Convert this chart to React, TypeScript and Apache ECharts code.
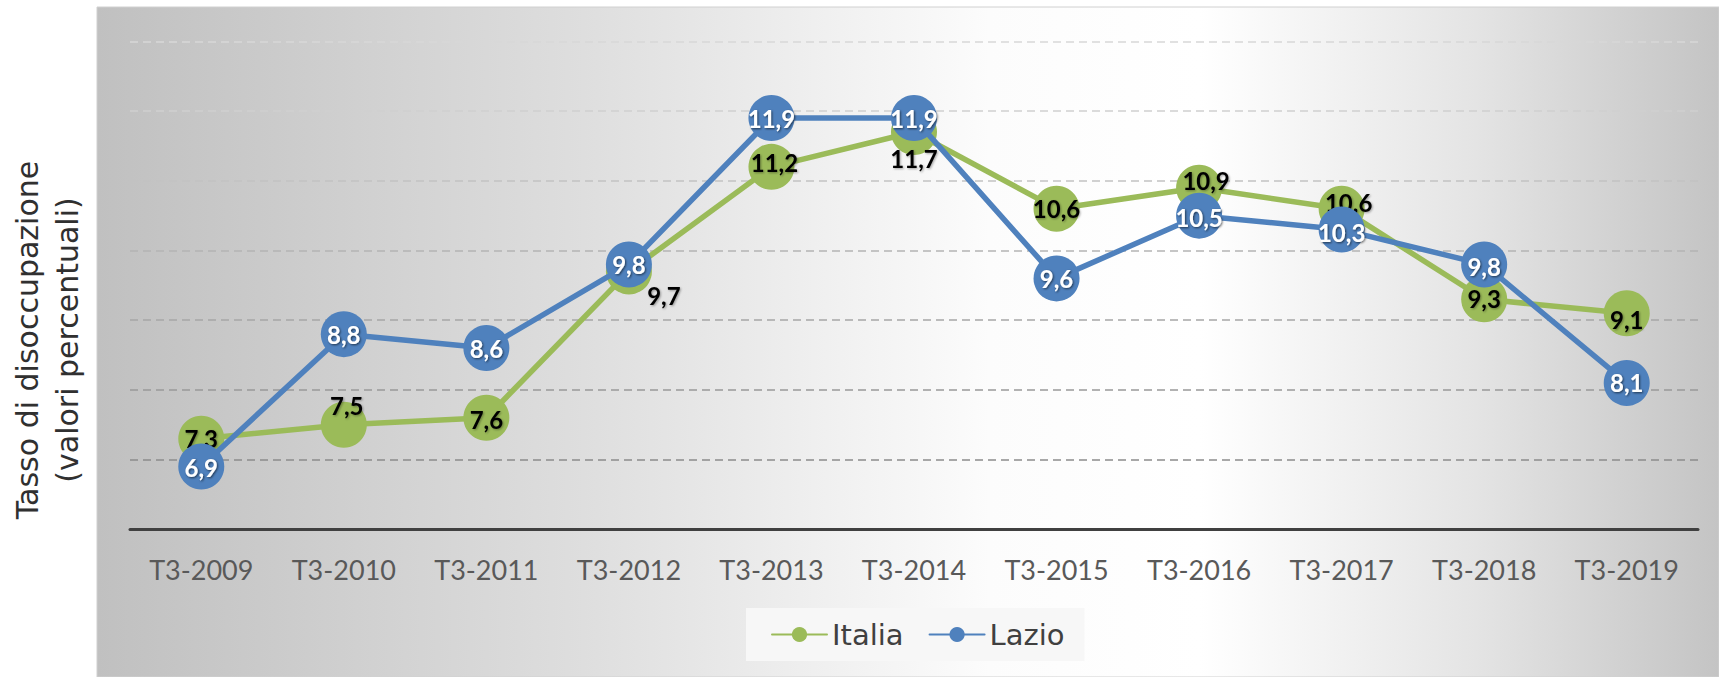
import React, { useEffect, useRef } from "react";
import * as echarts from "echarts";

const categories = ["T3-2009", "T3-2010", "T3-2011", "T3-2012", "T3-2013", "T3-2014", "T3-2015", "T3-2016", "T3-2017", "T3-2018", "T3-2019"];
const italia = [7.3, 7.5, 7.6, 9.7, 11.2, 11.7, 10.6, 10.9, 10.6, 9.3, 9.1];
const lazio = [6.9, 8.8, 8.6, 9.8, 11.9, 11.9, 9.6, 10.5, 10.3, 9.8, 8.1];
const yMin = 6;
const yMax = 13;
const yInterval = 1;
const axisTitle = "Tasso di disoccupazione\n(valori percentuali)";

// label offsets (layout only)
const italiaLabelOffsets = [[0, 0], [3, -19], [0, 2], [35, 24], [3, -4], [0, 26], [0, 0], [7, -7], [7, -6], [0, -1], [0, 6]];
const lazioLabelOffsets = [[0, 1], [0, 0], [0, 0], [0, 0], [0, 0], [0, 0], [0, 0], [0, 2], [0, 3], [0, 2], [0, 0]];

const GREEN = "#9BBB59";
const BLUE = "#4F81BD";

export default function App() {
  const ref = useRef<HTMLDivElement>(null);
  useEffect(() => {
    if (!ref.current) return;
    const chart = echarts.init(ref.current, null, { renderer: "svg" });
    const labelBase = {
      show: true,
      position: "inside",
      fontFamily: "Lato",
      fontWeight: "bold",
      fontSize: 24,
      lineHeight: 18,
    };
    chart.setOption({
      animation: false,
      backgroundColor: "#ffffff",
      graphic: [
        {
          type: "rect",
          z: -100,
          shape: { x: 97, y: 7, width: 1622, height: 670 },
          style: {
            fill: {
              type: "linear",
              x: 0, y: 0, x2: 1, y2: 0,
              colorStops: [
                { offset: 0, color: "#c0c0c0" },
                { offset: 0.3, color: "#dedede" },
                { offset: 0.55, color: "#fcfcfc" },
                { offset: 0.68, color: "#ffffff" },
                { offset: 0.85, color: "#e4e4e4" },
                { offset: 1, color: "#c4c4c4" },
              ],
            },
            stroke: "#d0d0d0",
            lineWidth: 1,
          },
        },
        {
          type: "text",
          z: 10,
          x: 47,
          y: 340,
          rotation: Math.PI / 2,
          style: {
            text: axisTitle,
            fontFamily: "DejaVu Sans",
            fontSize: 30,
            lineHeight: 40,
            fill: "#303030",
            align: "center",
            verticalAlign: "middle",
          },
        },
      ],
      grid: { left: 130, right: 21, top: 41.4, bottom: 147.7, containLabel: false },
      legend: {
        left: 746,
        top: 608,
        backgroundColor: "#f7f7f7",
        padding: [12, 20, 12, 25],
        itemWidth: 55,
        itemHeight: 19,
        itemGap: 25,
        textStyle: { fontFamily: "DejaVu Sans", fontSize: 29, color: "#404040" },
        data: ["Italia", "Lazio"],
      },
      xAxis: {
        type: "category",
        data: categories,
        boundaryGap: true,
        axisLine: { show: true, lineStyle: { color: "#404040", width: 3 } },
        axisTick: { show: false },
        axisLabel: {
          color: "#595959",
          fontFamily: "Lato",
          fontSize: 27,
          lineHeight: 28,
          margin: 26,
        },
        splitLine: { show: false },
      },
      yAxis: {
        type: "value",
        min: yMin,
        max: yMax,
        interval: yInterval,
        axisLine: { show: false },
        axisTick: { show: false },
        axisLabel: { show: false },
        splitLine: {
          show: true,
          lineStyle: {
            type: [8, 5],
            width: 1.5,
            color: ["#808080", "#8c8c8c", "#999999", "#a6a6a6", "#b4b4b4", "#c2c2c2", "#cfcfcf", "#d8d8d8"],
          },
        },
      },
      series: [
        {
          name: "Italia",
          type: "line",
          data: italia.map((v, i) => ({ value: v, label: { offset: italiaLabelOffsets[i] } })),
          symbol: "circle",
          symbolSize: 46,
          lineStyle: { color: GREEN, width: 5.5, cap: "round" },
          itemStyle: { color: GREEN },
          z: 3,
          label: {
            ...labelBase,
            color: "#000000",
            textShadowColor: "rgba(0,0,0,0.35)",
            textShadowBlur: 2,
            textShadowOffsetX: 1,
            textShadowOffsetY: 1,
            formatter: (p: any) => String(p.value).replace(".", ","),
          },
        },
        {
          name: "Lazio",
          type: "line",
          data: lazio.map((v, i) => ({ value: v, label: { offset: lazioLabelOffsets[i] } })),
          symbol: "circle",
          symbolSize: 46,
          lineStyle: { color: BLUE, width: 5.5, cap: "round" },
          itemStyle: { color: BLUE },
          z: 4,
          label: {
            ...labelBase,
            color: "#ffffff",
            textShadowColor: "rgba(0,0,0,0.6)",
            textShadowBlur: 2,
            textShadowOffsetX: 1,
            textShadowOffsetY: 1,
            formatter: (p: any) => String(p.value).replace(".", ","),
          },
        },
      ],
    });
    return () => chart.dispose();
  }, []);
  return <div ref={ref} style={{ position: "fixed", left: 0, top: 0, width: 1719, height: 677 }} />;
}
